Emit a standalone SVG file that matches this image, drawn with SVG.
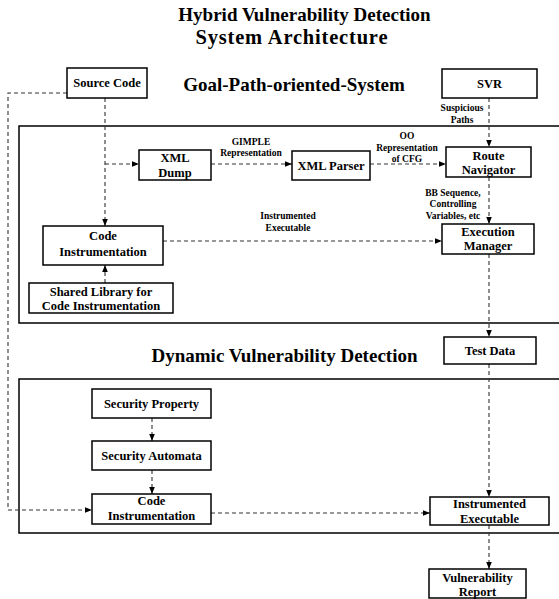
<svg xmlns="http://www.w3.org/2000/svg" width="559" height="599" viewBox="0 0 559 599">
<style>
text{font-family:"Liberation Serif","Times New Roman",serif;font-weight:bold;fill:#000;text-anchor:middle}
.title{font-size:19px}
.head{font-size:19px}
.lbl{font-size:12.5px}
.sm{font-size:9.5px}
.box{fill:#fff;stroke:#000;stroke-width:1.5}
.cont{fill:none;stroke:#000;stroke-width:1.5}
.con{fill:none;stroke:#333;stroke-width:1.1;stroke-dasharray:4,3}
</style>
<defs>
<marker id="arr" viewBox="0 0 10 10" refX="10" refY="5" markerWidth="7" markerHeight="7" orient="auto" markerUnits="userSpaceOnUse">
<path d="M0,1 L10,5 L0,9 z" fill="#000"/>
</marker>
</defs>
<rect width="559" height="599" fill="#fff"/>
<g id="title">
<text class="title" x="304.5" y="21">Hybrid Vulnerability Detection</text>
<text class="title" x="291.5" y="44" style="font-size:20.5px" textLength="192" lengthAdjust="spacing">System Architecture</text>
</g>
<g id="goal-path-system">
<path class="cont" d="M562,126 H19 V323 H562"/>
<text class="head" x="294" y="91">Goal-Path-oriented-System</text>
</g>
<g id="dynamic-detection">
<path class="cont" d="M562,379 H19 V533 H562"/>
<text class="head" x="284.5" y="362">Dynamic Vulnerability Detection</text>
</g>
<g id="connectors">
<path class="con" d="M105,98 V226" marker-end="url(#arr)"/>
<path class="con" d="M105,164 H139" marker-end="url(#arr)"/>
<path class="con" d="M211,164 H292" marker-end="url(#arr)"/>
<path class="con" d="M370,164 H446" marker-end="url(#arr)"/>
<path class="con" d="M489,98 V147" marker-end="url(#arr)"/>
<path class="con" d="M489,177 V224" marker-end="url(#arr)"/>
<path class="con" d="M105,283 V265" marker-end="url(#arr)"/>
<path class="con" d="M163,241 H442" marker-end="url(#arr)"/>
<path class="con" d="M489,254 V337" marker-end="url(#arr)"/>
<path class="con" d="M489,364 V497" marker-end="url(#arr)"/>
<path class="con" d="M152,418 V441" marker-end="url(#arr)"/>
<path class="con" d="M152,470 V494" marker-end="url(#arr)"/>
<path class="con" d="M67,93 H8 V510 H92" marker-end="url(#arr)"/>
<path class="con" d="M211,513 H430" marker-end="url(#arr)"/>
<path class="con" d="M489,525 V569" marker-end="url(#arr)"/>
<text class="sm" x="462" y="111">Suspicious</text>
<text class="sm" x="462" y="123">Paths</text>
<text class="sm" x="251" y="145">GIMPLE</text>
<text class="sm" x="251" y="156">Representation</text>
<text class="sm" x="407" y="139">OO</text>
<text class="sm" x="407" y="151">Representation</text>
<text class="sm" x="407" y="162">of CFG</text>
<text class="sm" x="453" y="196">BB Sequence,</text>
<text class="sm" x="453" y="207">Controlling</text>
<text class="sm" x="453" y="219">Variables, etc</text>
<text class="sm" x="288" y="219">Instrumented</text>
<text class="sm" x="288" y="231">Executable</text>
</g>
<g id="source-code">
<rect class="box" x="67" y="68" width="80" height="30"/>
<text class="lbl" x="107" y="87">Source Code</text>
</g>
<g id="svr">
<rect class="box" x="442" y="69" width="95" height="29"/>
<text class="lbl" x="489.5" y="88">SVR</text>
</g>
<g id="xml-dump">
<rect class="box" x="139" y="150" width="72" height="30"/>
<text class="lbl" x="175" y="162">XML</text>
<text class="lbl" x="175" y="177">Dump</text>
</g>
<g id="xml-parser">
<rect class="box" x="292" y="151" width="78" height="29"/>
<text class="lbl" x="331" y="170">XML Parser</text>
</g>
<g id="route-navigator">
<rect class="box" x="446" y="147" width="85" height="30"/>
<text class="lbl" x="488.5" y="160">Route</text>
<text class="lbl" x="488.5" y="174">Navigator</text>
</g>
<g id="code-instrumentation-1">
<rect class="box" x="43" y="226" width="120" height="39"/>
<text class="lbl" x="103" y="240">Code</text>
<text class="lbl" x="103" y="256">Instrumentation</text>
</g>
<g id="execution-manager">
<rect class="box" x="442" y="224" width="92" height="30"/>
<text class="lbl" x="488" y="236">Execution</text>
<text class="lbl" x="488" y="250">Manager</text>
</g>
<g id="shared-library">
<rect class="box" x="29" y="283" width="144" height="30"/>
<text class="lbl" x="101" y="296">Shared Library for</text>
<text class="lbl" x="101" y="310">Code Instrumentation</text>
</g>
<g id="test-data">
<rect class="box" x="444" y="337" width="92" height="27"/>
<text class="lbl" x="490" y="355">Test Data</text>
</g>
<g id="security-property">
<rect class="box" x="92" y="389" width="119" height="29"/>
<text class="lbl" x="151.5" y="408">Security Property</text>
</g>
<g id="security-automata">
<rect class="box" x="92" y="441" width="119" height="29"/>
<text class="lbl" x="151.5" y="460">Security Automata</text>
</g>
<g id="code-instrumentation-2">
<rect class="box" x="92" y="494" width="119" height="30"/>
<text class="lbl" x="151.5" y="505">Code</text>
<text class="lbl" x="151.5" y="520">Instrumentation</text>
</g>
<g id="instrumented-executable">
<rect class="box" x="430" y="497" width="119" height="28"/>
<text class="lbl" x="489.5" y="508">Instrumented</text>
<text class="lbl" x="489.5" y="523">Executable</text>
</g>
<g id="vulnerability-report">
<rect class="box" x="429" y="569" width="97" height="29"/>
<text class="lbl" x="477.5" y="582">Vulnerability</text>
<text class="lbl" x="477.5" y="596">Report</text>
</g>
</svg>
